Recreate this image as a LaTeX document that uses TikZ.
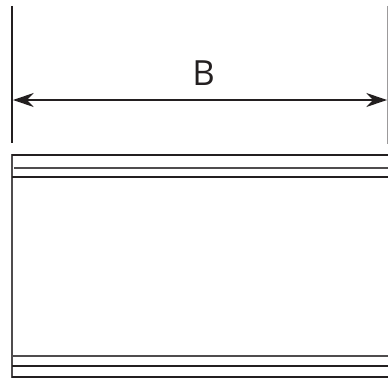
\documentclass[tikz,border=0pt]{standalone}
\usepackage{fontspec}
\setmainfont{Open Sans}
\usetikzlibrary{arrows.meta}
\definecolor{ink}{HTML}{231F20}
\tikzset{
  px/.style={x=0.75pt,y=-0.75pt},
  rule/.style={draw=ink,line width=1.5pt,line cap=butt},
  thin rule/.style={draw=ink!80,line width=1.5pt,line cap=butt},
  dim/.style={draw=ink,line width=1.5pt,{Stealth[length=15.5pt,width=10.5pt,inset=5pt]}-{Stealth[length=15.5pt,width=10.5pt,inset=5pt]}},
  label/.style={font=\fontsize{26pt}{30pt}\selectfont,text=ink,inner sep=0pt}
}
\begin{document}
\begin{tikzpicture}[px]
\useasboundingbox (0,0) rectangle (388,378);
\coordinate (lt) at (12,6);
\coordinate (lb) at (12,143);
\coordinate (rt) at (387.6,6);
\coordinate (rb) at (387.6,144);
\coordinate (al) at (13,100);
\coordinate (ar) at (387,100);
\coordinate (t1l) at (12,155);
\coordinate (t1r) at (388,155);
\coordinate (t2l) at (14,168);
\coordinate (t2r) at (388,168);
\coordinate (t3l) at (12,177);
\coordinate (t3r) at (388,177);
\coordinate (b1l) at (12,356);
\coordinate (b1r) at (388,356);
\coordinate (b2l) at (12,366);
\coordinate (b2r) at (388,366);
\coordinate (b3l) at (12,377);
\coordinate (b3r) at (388,377);
\draw[rule] (lt) -- (lb);
\draw[draw=ink!45,line width=1pt] (rt) -- (rb);
\draw[dim] (al) -- (ar);
\node[label,anchor=base] (B) at (203.5,85.5) {B};
\draw[thin rule] (t1r) -- (t1l) -- (b3l) -- (b3r);
\draw[rule] (t1l) -- (t1r);
\draw[thin rule] (t2l) -- (t2r);
\draw[rule] (t3l) -- (t3r);
\draw[thin rule] (b1l) -- (b1r);
\draw[rule] (b2l) -- (b2r);
\draw[rule] (b3l) -- (b3r);
\end{tikzpicture}
\end{document}
